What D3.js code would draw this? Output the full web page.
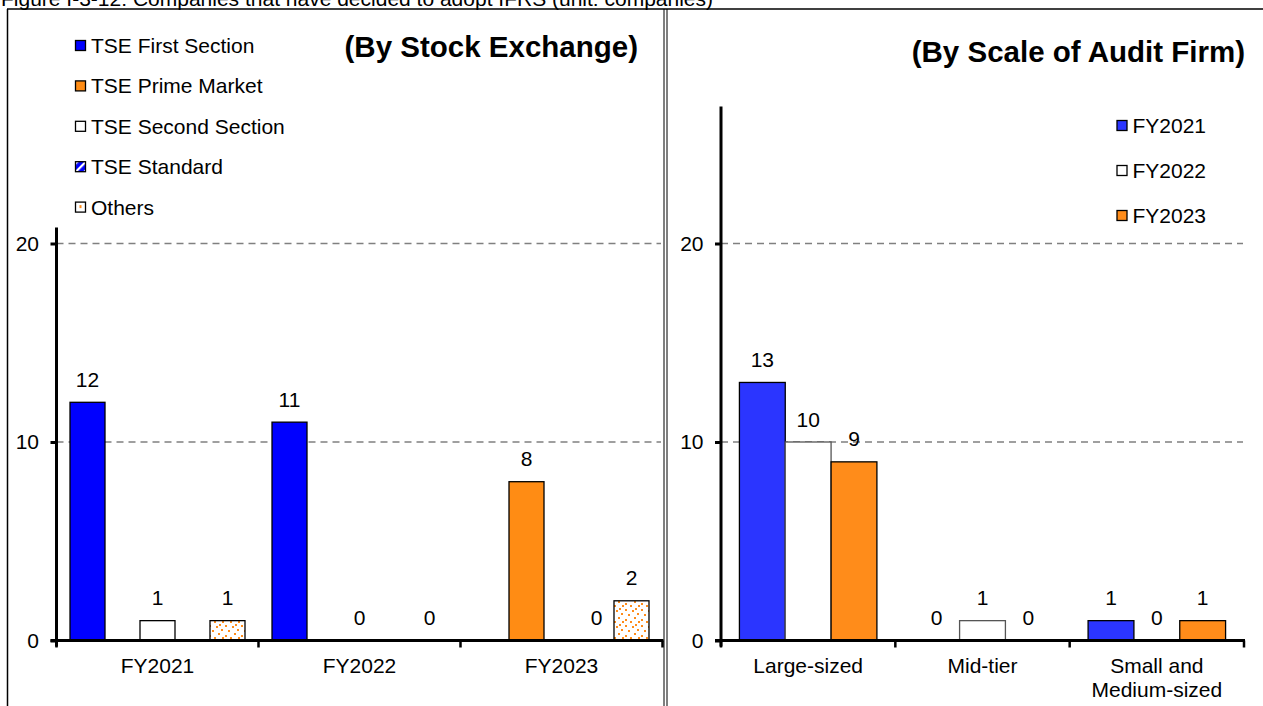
<!DOCTYPE html>
<html><head><meta charset="utf-8">
<script src="https://cdn.jsdelivr.net/npm/d3@7"></script>
<style>
html,body{margin:0;padding:0;background:#fff;overflow:hidden}
svg{display:block}
text{font-family:"Liberation Sans",Arial,sans-serif;fill:#000}
</style></head><body>
<svg id="chart" width="1263" height="706"></svg>
<script>
// ---------- DATA ----------
const figureTitle = "Figure I-3-12: Companies that have decided to adopt IFRS (unit: companies)";
const leftTitle = "(By Stock Exchange)";
const rightTitle = "(By Scale of Audit Firm)";

const leftCategories = ["FY2021", "FY2022", "FY2023"];
const leftSeriesNames = ["TSE First Section", "TSE Prime Market", "TSE Second Section", "TSE Standard", "Others"];
const tseFirstSection  = [12, 11, null];
const tsePrimeMarket   = [null, null, 8];
const tseSecondSection = [1, 0, null];
const tseStandard      = [null, null, 0];
const tseOthers        = [1, 0, 2];

const rightCategories = ["Large-sized", "Mid-tier", "Small and\nMedium-sized"];
const rightSeriesNames = ["FY2021", "FY2022", "FY2023"];
const auditFY2021 = [13, 0, 1];
const auditFY2022 = [10, 1, 0];
const auditFY2023 = [9, 0, 1];

const yTickValues = [0, 10, 20];
const leftAxisMax = 20.8;
const rightAxisMax = 26.9;

// ---------- SETUP ----------
const svg = d3.select("#chart");
const FS = 21;

const defs = svg.append("defs");
// dotted orange pattern
const pd = defs.append("pattern").attr("id", "dots").attr("patternUnits", "userSpaceOnUse")
  .attr("width", 16).attr("height", 16);
pd.append("rect").attr("width", 16).attr("height", 16).attr("fill", "#fff");
[[1,1],[8,2],[13,5],[4,6],[10,9],[1,11],[6,13],[14,13],[11,0]].forEach(([x,y]) =>
  pd.append("rect").attr("x", x).attr("y", y).attr("width", 2).attr("height", 2).attr("fill", "#ff8c1a"));
const pdl = defs.append("pattern").attr("id", "dotsLegend").attr("patternUnits", "objectBoundingBox")
  .attr("width", 1).attr("height", 1);
pdl.append("rect").attr("width", 10).attr("height", 10).attr("fill", "#fff");
pdl.append("rect").attr("x", 4).attr("y", 3).attr("width", 2).attr("height", 3).attr("fill", "#ff8c1a");
// diagonal stripes (blue / white)
const ps = defs.append("pattern").attr("id", "stripes").attr("patternUnits", "userSpaceOnUse")
  .attr("width", 6).attr("height", 6).attr("patternTransform", "rotate(45)");
ps.append("rect").attr("width", 6).attr("height", 6).attr("fill", "#0000ff");
ps.append("rect").attr("width", 2.2).attr("height", 6).attr("fill", "#fff");

const leftFills = ["#0000ff", "#ff8c14", "#ffffff", "url(#stripes)", "url(#dots)"];
const rightFills = ["#2b35ff", "#ffffff", "#ff8c1a"];
const rightStrokes = ["#000", "#555", "#000"];

// figure title (cut at top, as in the reference)
svg.append("text").attr("x", 1).attr("y", 5.5).style("font-size", FS + "px").text(figureTitle);

// frame lines
const frame = svg.append("g").attr("stroke", "#000").attr("fill", "none");
frame.append("line").attr("x1", 7).attr("x2", 1263).attr("y1", 9).attr("y2", 9).attr("stroke-width", 1.5);
frame.append("line").attr("x1", 7.5).attr("x2", 7.5).attr("y1", 9).attr("y2", 706).attr("stroke-width", 1.5);
frame.append("line").attr("x1", 664).attr("x2", 664).attr("y1", 9).attr("y2", 706).attr("stroke-width", 1);
frame.append("line").attr("x1", 667).attr("x2", 667).attr("y1", 9).attr("y2", 706).attr("stroke-width", 1);

function drawPanel(opts) {
  const g = svg.append("g");
  const y = d3.scaleLinear().domain([0, 20]).range([640.5, 243.5]);
  const x0 = d3.scaleBand().domain(opts.categories).range(opts.xRange).padding(0);
  const x1 = d3.scaleBand().domain(opts.seriesNames).range([0, x0.bandwidth()])
    .paddingInner(0).paddingOuter(opts.outerPad);

  // gridlines
  g.append("g").selectAll("line").data(yTickValues.filter(v => v > 0)).join("line")
    .attr("x1", opts.xRange[0]).attr("x2", opts.gridEnd)
    .attr("y1", d => y(d)).attr("y2", d => y(d))
    .attr("stroke", "#808080").attr("stroke-width", 1.5).attr("stroke-dasharray", "7,5");

  // bars
  opts.series.forEach((vals, si) => {
    const name = opts.seriesNames[si];
    g.append("g").selectAll("rect").data(vals.map((v, i) => ({v, c: opts.categories[i]})).filter(d => d.v !== null && d.v > 0))
      .join("rect")
      .attr("x", d => x0(d.c) + x1(name))
      .attr("y", d => y(d.v))
      .attr("width", x1.bandwidth())
      .attr("height", d => y(0) - y(d.v))
      .attr("fill", opts.fills[si])
      .attr("stroke", opts.strokes ? opts.strokes[si] : "#000")
      .attr("stroke-width", 1.3);
    g.append("g").selectAll("text").data(vals.map((v, i) => ({v, c: opts.categories[i]})).filter(d => d.v !== null))
      .join("text")
      .attr("x", d => x0(d.c) + x1(name) + x1.bandwidth() / 2)
      .attr("y", d => y(d.v) - 15.5)
      .attr("text-anchor", "middle")
      .style("font-size", FS + "px")
      .text(d => d.v);
  });

  // y axis
  const yAxis = d3.axisLeft(y).tickValues(yTickValues).tickSize(6).tickPadding(11.5).tickFormat(d3.format("d"));
  const ya = g.append("g").attr("transform", `translate(${opts.xRange[0]},0)`).call(yAxis);
  ya.select(".domain").remove();
  ya.selectAll(".tick line").attr("stroke", "#000").attr("stroke-width", 3);
  ya.selectAll(".tick text").style("font-size", FS + "px").attr("fill", "#000")
    .style("font-family", '"Liberation Sans",Arial,sans-serif');
  g.append("line").attr("x1", opts.xRange[0]).attr("x2", opts.xRange[0])
    .attr("y1", y(opts.axisMax)).attr("y2", y(0) + 6)
    .attr("stroke", "#000").attr("stroke-width", 3);

  // x axis
  g.append("line").attr("x1", opts.xRange[0] - 6).attr("x2", opts.xRange[1] + 1)
    .attr("y1", y(0)).attr("y2", y(0)).attr("stroke", "#000").attr("stroke-width", 3);
  const bounds = opts.categories.map(c => x0(c)).concat([x0(opts.categories[opts.categories.length - 1]) + x0.bandwidth()]);
  g.append("g").selectAll("line").data(bounds).join("line")
    .attr("x1", d => d).attr("x2", d => d).attr("y1", y(0)).attr("y2", y(0) + 7)
    .attr("stroke", "#000").attr("stroke-width", 2.5);
  const xl = g.append("g").selectAll("text").data(opts.categories).join("text")
    .attr("x", d => x0(d) + x0.bandwidth() / 2).attr("y", 673)
    .attr("text-anchor", "middle").style("font-size", FS + "px");
  xl.each(function(d) {
    const lines = d.split("\n");
    d3.select(this).selectAll("tspan").data(lines).join("tspan")
      .attr("x", x0(d) + x0.bandwidth() / 2).attr("dy", (l, i) => i === 0 ? 0 : 24).text(l => l);
  });

  // title
  svg.append("text").attr("x", opts.titleX).attr("y", opts.titleY).attr("text-anchor", opts.titleAnchor)
    .style("font-size", "29.5px").style("font-weight", "bold").text(opts.title);

  // legend
  const lg = svg.append("g");
  opts.seriesNames.forEach((n, i) => {
    const by = opts.legendY0 + i * opts.legendStep;
    lg.append("rect").attr("x", opts.legendX).attr("y", by - 12.5).attr("width", 10).attr("height", 10)
      .attr("fill", opts.legendFills[i]).attr("stroke", "#000").attr("stroke-width", 1.3);
    lg.append("text").attr("x", opts.legendX + 15.5).attr("y", by).style("font-size", FS + "px").text(n);
  });
}

drawPanel({
  categories: leftCategories, seriesNames: leftSeriesNames,
  series: [tseFirstSection, tsePrimeMarket, tseSecondSection, tseStandard, tseOthers],
  fills: leftFills, xRange: [56.5, 662.5], outerPad: 0.386, gridEnd: 661, axisMax: leftAxisMax,
  title: leftTitle, titleX: 638, titleY: 57, titleAnchor: "end",
  legendX: 75.5, legendY0: 53, legendStep: 40.4,
  legendFills: ["#0000ff", "#ff8c14", "#ffffff", "url(#stripes)", "url(#dotsLegend)"]
});

drawPanel({
  categories: rightCategories, seriesNames: rightSeriesNames,
  series: [auditFY2021, auditFY2022, auditFY2023],
  fills: rightFills, strokes: rightStrokes, xRange: [721, 1244], outerPad: 0.402, gridEnd: 1243, axisMax: rightAxisMax,
  title: rightTitle, titleX: 1245, titleY: 62, titleAnchor: "end",
  legendX: 1117, legendY0: 133, legendStep: 45,
  legendFills: rightFills
});
</script>
</body></html>
